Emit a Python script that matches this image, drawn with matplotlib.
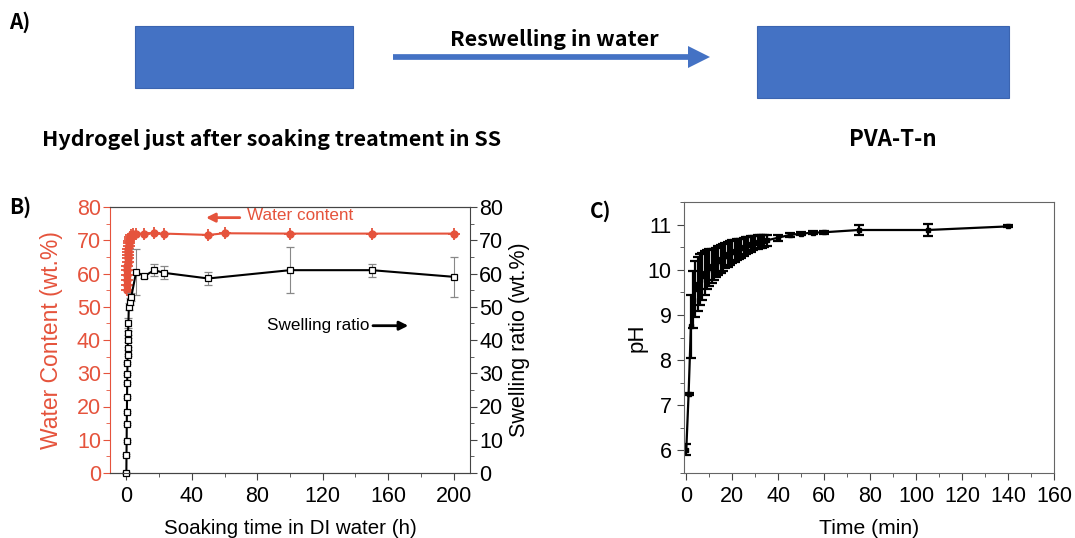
import matplotlib
matplotlib.use("Agg")
import matplotlib.pyplot as plt
from matplotlib.patches import Rectangle, FancyArrow
from matplotlib.ticker import MultipleLocator

plt.rcParams['font.family'] = ['Liberation Sans', 'DejaVu Sans']

RED = '#E5533C'
BLUE = '#4472C4'
GREY = '#444444'

# B) water content (left axis) and swelling ratio (right axis) vs soaking time (h)
wc_time = [0.25, 0.33, 0.42, 0.5, 0.58, 0.67, 0.75, 0.83, 0.92, 1.0, 1.17, 1.33,
           1.5, 1.75, 2.0, 2.5, 3.0, 4.0, 6, 11, 17, 23, 50, 60, 100, 150, 200]
wc_value = [55.0, 56.5, 58.0, 59.5, 61.0, 62.3, 63.5, 64.6, 65.6, 66.5, 67.5, 68.4,
            69.1, 69.8, 70.4, 71.0, 71.5, 71.8, 72.0, 72.0, 72.1, 72.0, 71.6, 72.1,
            72.0, 72.0, 72.0]

sr_time = [0, 0.08, 0.17, 0.25, 0.33, 0.42, 0.5, 0.58, 0.67, 0.75, 0.83, 0.92,
           1.0, 1.25, 1.5, 2.0, 3.0, 6, 11, 17, 23, 50, 100, 150, 200]
sr_value = [0, 5.4, 9.7, 14.6, 18.4, 23.0, 27.0, 29.7, 33.0, 35.5, 37.5, 40.0,
            42.0, 45.0, 50.0, 51.5, 53.0, 60.5, 59.2, 61.0, 60.2, 58.5, 61.0, 61.0, 59.0]
sr_err = [0.3, 0.3, 0.3, 0.3, 0.3, 0.3, 0.3, 0.3, 0.3, 0.4, 0.4, 0.5,
          0.6, 1.5, 1.0, 1.0, 1.2, 7.0, 0.5, 1.8, 2.0, 2.0, 7.0, 2.0, 6.0]

# C) pH of the water vs time (min)
ph_time = [0, 1, 2, 3, 4, 5, 6, 7, 8, 9, 10, 11, 12, 13, 14, 15, 16, 17, 18, 19,
           20, 21, 22, 23, 24, 25, 26, 27, 28, 29, 30, 31, 32, 33, 34, 35,
           40, 45, 50, 55, 60, 75, 105, 140]
ph_value = [6.02, 7.25, 8.75, 9.34, 9.57, 9.68, 9.78, 9.86, 9.93, 10.00, 10.04, 10.08,
            10.12, 10.16, 10.20, 10.24, 10.28, 10.31, 10.34, 10.37, 10.40, 10.42, 10.44,
            10.46, 10.48, 10.50, 10.53, 10.55, 10.57, 10.59, 10.60, 10.61, 10.62, 10.63,
            10.64, 10.65, 10.71, 10.77, 10.80, 10.82, 10.83, 10.88, 10.88, 10.96]
ph_err = [0.12, 0.02, 0.70, 0.63, 0.62, 0.60, 0.56, 0.52, 0.48, 0.43, 0.41, 0.38,
          0.35, 0.33, 0.32, 0.31, 0.30, 0.28, 0.27, 0.26, 0.25, 0.24, 0.23, 0.22,
          0.21, 0.20, 0.19, 0.18, 0.17, 0.16, 0.15, 0.15, 0.14, 0.14, 0.13, 0.13,
          0.07, 0.05, 0.03, 0.03, 0.03, 0.10, 0.13, 0.02]

W, H = 1075, 538
fig = plt.figure(figsize=(W / 100, H / 100), dpi=100)

# ---- A) schematic drawn in pixel coordinates ----
sch = fig.add_axes([0, 0, 1, 1], zorder=0)
sch.set_xlim(0, W)
sch.set_ylim(H, 0)
sch.axis('off')
cjk = dict(family=['Noto Sans CJK SC', 'DejaVu Sans'], weight='bold')
sch.add_patch(Rectangle((135, 26), 218, 62, facecolor=BLUE, edgecolor='#3b64b0', lw=0.8))
sch.add_patch(Rectangle((757, 26), 252, 72, facecolor=BLUE, edgecolor='#3b64b0', lw=0.8))
sch.add_patch(FancyArrow(393, 57, 317, 0, width=5.7, head_width=22, head_length=22,
                         length_includes_head=True, color=BLUE, lw=0))
sch.text(554, 39, 'Reswelling in water', ha='center', va='center', fontsize=15.5, **cjk)
sch.text(272, 139, 'Hydrogel just after soaking treatment in SS', ha='center',
         va='center', fontsize=15.5, **cjk)
sch.text(893, 139, 'PVA-T-n', ha='center', va='center', fontsize=16, **cjk)
sch.text(9, 22, 'A)', ha='left', va='center', fontsize=15, **cjk)
sch.text(9, 207, 'B)', ha='left', va='center', fontsize=15, **cjk)
sch.text(590, 211, 'C)', ha='left', va='center', fontsize=15, **cjk)

# ---- B) water content / swelling ratio ----
axb = fig.add_axes([110 / W, 1 - 473 / H, 360 / W, 266 / H], zorder=1)
axb.plot(wc_time, wc_value, color=RED, lw=1.5, marker='o', ms=5, clip_on=False)
axb.plot(wc_time, wc_value, ls='none', marker='+', ms=8.5, mew=1.3, color=RED)
axb.set_xlim(-10, 210)
axb.set_ylim(0, 80)
axb.xaxis.set_major_locator(MultipleLocator(40))
axb.xaxis.set_minor_locator(MultipleLocator(20))
axb.yaxis.set_major_locator(MultipleLocator(10))
axb.yaxis.set_minor_locator(MultipleLocator(5))
axb.tick_params(which='both', direction='out', labelsize=15.5)
axb.tick_params(which='major', length=5, pad=4)
axb.tick_params(axis='y', which='major', pad=1.5)
axb.tick_params(which='minor', length=3)
axb.tick_params(axis='y', which='both', colors=RED, labelcolor=RED)
axb.tick_params(axis='x', which='both', colors=GREY, labelcolor='black')
for s in ('top', 'bottom'):
    axb.spines[s].set_color(GREY)
axb.spines['right'].set_visible(False)
axb.spines['left'].set_color(RED)
axb.set_ylabel('Water Content (wt.%)', color=RED, fontsize=16.5, labelpad=10)
axb.set_xlabel('Soaking time in DI water (h)', fontsize=14.8, labelpad=9)

axr = axb.twinx()
axr.errorbar(sr_time, sr_value, yerr=sr_err, color='black', lw=1.5, marker='s', ms=5,
             mfc='white', mec='black', mew=0.9, ecolor='#888888', elinewidth=0.8,
             capsize=3, clip_on=False)
axr.set_ylim(0, 80)
axr.yaxis.set_major_locator(MultipleLocator(10))
axr.yaxis.set_minor_locator(MultipleLocator(5))
axr.tick_params(which='both', direction='out', labelsize=15.5, colors=GREY, labelcolor='black')
axr.tick_params(which='major', length=5, pad=1.5)
axr.tick_params(which='minor', length=3)
axr.spines['left'].set_visible(False)
for s in ('top', 'right', 'bottom'):
    axr.spines[s].set_color(GREY)
axr.set_ylabel('Swelling ratio (wt.%)', fontsize=15.5, labelpad=4)

axb.annotate('', xy=(47, 76.8), xytext=(71, 76.8),
             arrowprops=dict(arrowstyle='-|>', color=RED, lw=2, mutation_scale=13))
axb.text(74, 77.5, 'Water content', color=RED, fontsize=12.3, va='center', ha='left')
axr.text(86, 44.5, 'Swelling ratio', color='black', fontsize=12.3, va='center', ha='left')
axr.annotate('', xy=(174, 44.3), xytext=(149, 44.3),
             arrowprops=dict(arrowstyle='-|>', color='black', lw=2, mutation_scale=13))

# ---- C) pH ----
axc = fig.add_axes([684 / W, 1 - 473 / H, 370 / W, 271 / H], zorder=1)
axc.errorbar(ph_time, ph_value, yerr=ph_err, color='black', lw=1.6, marker='s', ms=3.5,
             capsize=3.5, elinewidth=1.6, capthick=1.6)
axc.set_xlim(-1, 160)
axc.set_ylim(5.5, 11.5)
axc.xaxis.set_major_locator(MultipleLocator(20))
axc.xaxis.set_minor_locator(MultipleLocator(10))
axc.yaxis.set_major_locator(MultipleLocator(1))
axc.yaxis.set_minor_locator(MultipleLocator(0.5))
axc.tick_params(which='both', direction='out', labelsize=15.5, colors=GREY, labelcolor='black')
axc.tick_params(which='major', length=5, pad=4)
axc.tick_params(which='minor', length=3)
for s in axc.spines.values():
    s.set_color('#666666')
axc.set_xlabel('Time (min)', fontsize=15.2, labelpad=9)
axc.set_ylabel('pH', fontsize=16, labelpad=0)

fig.savefig('out.png', dpi=100)
